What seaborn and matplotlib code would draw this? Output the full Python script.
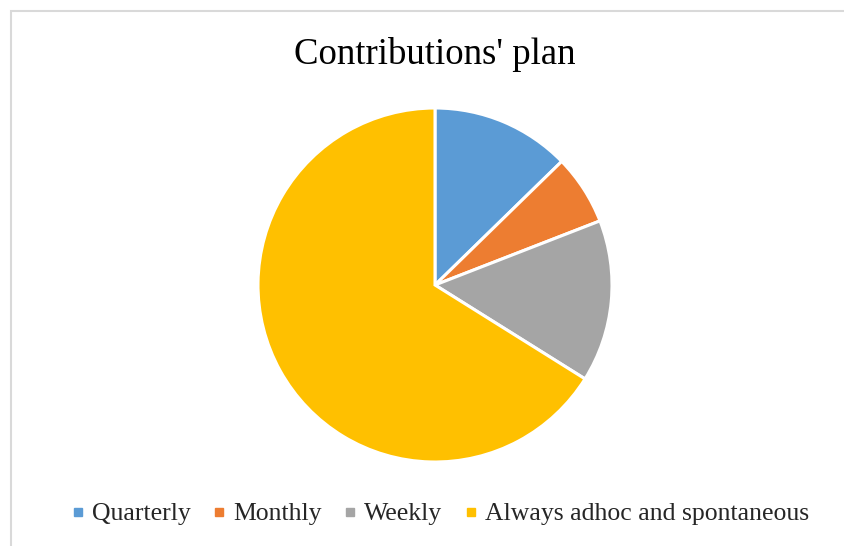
import matplotlib
matplotlib.use("Agg")
import matplotlib.pyplot as plt
from matplotlib.patches import Rectangle
from matplotlib.lines import Line2D
import seaborn as sns

categories = ["Quarterly", "Monthly", "Weekly", "Always adhoc and spontaneous"]
shares = [12.7, 6.4, 14.8, 66.1]
colors = ["#5B9BD5", "#ED7D31", "#A5A5A5", "#FFC000"]

sns.set_theme(style="white")
plt.rcParams["font.family"] = ["Liberation Serif", "DejaVu Serif"]

W, H = 844, 546
fig = plt.figure(figsize=(W / 100, H / 100), dpi=100)
fig.patch.set_facecolor("white")

# chart frame
fig.patches.append(Rectangle((11 / W, -0.1), 1.2, 1 - 11 / H + 0.1,
                             transform=fig.transFigure, fill=False,
                             edgecolor="#D9D9D9", linewidth=1.5))

cx, cy, r = 435, 285, 177
ax = fig.add_axes([(cx - r) / W, (H - cy - r) / H, 2 * r / W, 2 * r / H])
ax.pie(shares, colors=colors, startangle=90, counterclock=False, radius=1,
       wedgeprops=dict(edgecolor="white", linewidth=2.2))
ax.set_xlim(-1, 1)
ax.set_ylim(-1, 1)
ax.set_aspect("equal")
ax.axis("off")

fig.text(cx / W, 1 - 54 / H, "Contributions' plan", ha="center", va="center",
         fontsize=26.5, color="black")

handles = [Line2D([0], [0], marker="s", linestyle="none", markersize=6,
                  markerfacecolor=c, markeredgecolor=c) for c in colors]
fig.legend(handles, categories, loc="center", bbox_to_anchor=(439.5 / W, 1 - 514 / H),
           ncol=4, frameon=False, fontsize=18.5, handlelength=0.6,
           handletextpad=0.25, columnspacing=0.8)

fig.savefig("out.png", dpi=100)
